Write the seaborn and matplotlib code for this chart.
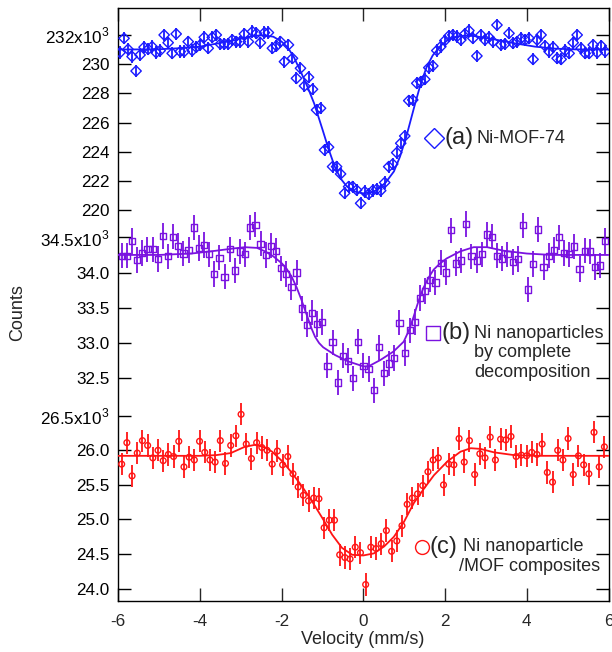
import numpy as np
import matplotlib
matplotlib.use("Agg")
import matplotlib.pyplot as plt
import seaborn as sns

# ── data (counts in units of 10^3) ───────────────────────────────────────────

# (a) Ni-MOF-74, blue diamonds
a_counts = [
    230.79, 231.77, 231.02, 230.52, 229.53, 230.63, 231.16, 231.02, 231.20, 230.79,
    230.93, 232.00, 231.47, 230.74, 232.07, 230.86, 230.86, 231.54, 230.93, 231.16,
    231.32, 231.84, 231.09, 231.84, 232.00, 231.38, 231.38, 231.38, 231.66, 231.54,
    231.54, 232.07, 231.54, 232.23, 232.11, 231.47, 232.16, 232.16, 231.09, 231.25,
    231.54, 230.17, 231.32, 230.40, 229.03, 229.72, 228.51, 229.10, 228.28, 226.86,
    226.98, 224.12, 224.31, 222.98, 222.98, 222.48, 221.16, 221.61, 221.61, 221.38,
    220.47, 221.27,
    221.10, 221.34, 221.43, 221.34, 221.89, 222.98, 223.16, 223.94, 224.58, 225.08,
    227.50, 227.55, 228.69, 228.80, 228.96, 229.76, 229.88, 230.93, 231.20, 231.61,
    231.93, 232.00, 231.89, 231.66, 232.07, 232.30, 231.77, 230.56, 232.00, 231.66,
    231.84, 231.54, 232.68, 231.32, 231.38, 232.11, 231.43, 231.54, 231.77, 231.66,
    231.77, 230.33, 231.66, 232.00, 231.25, 230.86, 231.16, 230.40, 230.33, 230.93,
    230.74, 231.47, 232.00, 231.09, 230.74, 230.74, 231.32, 230.79, 231.25, 230.86,
]
a_err = 0.42
a_fit_v = [-6, -5.0, -4.5, -4.0, -3.5, -3.1, -2.7, -2.45, -2.2, -2.0, -1.85, -1.7,
           -1.5, -1.35, -1.2, -1.0, -0.85, -0.7, -0.55, -0.4, -0.2, 0.0, 0.2, 0.35,
           0.55, 0.75, 0.9, 1.05, 1.25, 1.4, 1.55, 1.7, 1.9, 2.05, 2.2, 2.45, 2.7,
           3.2, 3.7, 4.2, 4.7, 5.2, 6]
a_fit = [231.0, 231.02, 231.09, 231.2, 231.45, 231.67, 231.93, 231.98, 231.88, 231.55,
         231.15, 230.5, 229.3, 228.35, 227.3, 225.55, 224.2, 223.0, 222.15, 221.62,
         221.27, 221.15, 221.22, 221.4, 221.9, 222.65, 223.67, 225.0, 227.1, 228.6,
         229.8, 230.6, 231.28, 231.61, 231.84, 231.95, 231.93, 231.7, 231.43, 231.2,
         231.06, 231.01, 231.0]

# (b) Ni nanoparticles by complete decomposition, purple squares
b_counts = [
    34.24, 34.24, 34.45, 34.18, 34.28, 34.33, 34.33, 34.19, 34.52, 34.23,
    34.51, 34.38, 34.27, 34.32, 34.64, 34.35, 34.39, 34.26, 33.98, 34.21,
    33.94, 34.33, 34.03, 34.30, 34.26, 34.64, 34.68, 34.41, 34.25, 34.38,
    34.31, 34.06, 33.98, 33.79, 34.00, 33.49, 33.26, 33.43, 33.27, 33.30,
    32.68, 33.01, 32.44, 32.82, 32.75, 32.50, 33.02, 32.68,
    32.63, 32.33, 32.94, 32.57, 32.71, 32.79, 33.29, 32.86, 33.18, 33.30,
    33.64, 33.74, 33.90, 33.86, 34.14, 34.00, 34.60, 34.13, 34.17, 34.69,
    34.23, 34.17, 34.26, 34.54, 34.51, 34.24, 34.20, 34.26, 34.15, 34.19,
    34.67, 33.76, 34.12, 34.61, 34.08, 34.24, 34.32, 34.50, 34.28, 34.26,
    34.37, 34.05, 34.31, 34.30, 34.08, 34.10, 34.45,
]
b_err = 0.18
b_fit_v = [-6, -5, -4.2, -3.6, -3.2, -2.9, -2.6, -2.4, -2.2, -1.99, -1.87, -1.75,
           -1.63, -1.51, -1.42, -1.34, -1.26, -1.18, -1.08, -0.98, -0.69, -0.37,
           0.0, 0.13, 0.42, 0.74, 0.99, 1.07, 1.15, 1.23, 1.31, 1.39, 1.47, 1.6,
           1.72, 1.88, 2.04, 2.37, 2.7, 3.03, 3.43, 4.0, 4.6, 6]
b_fit = [34.25, 34.25, 34.27, 34.31, 34.34, 34.36, 34.35, 34.30, 34.23, 34.13, 34.05,
         33.94, 33.79, 33.61, 33.46, 33.33, 33.2, 33.09, 33.0, 32.94, 32.83, 32.74,
         32.67, 32.67, 32.76, 32.88, 33.02, 33.12, 33.23, 33.37, 33.52, 33.66, 33.78,
         33.93, 34.04, 34.13, 34.2, 34.3, 34.36, 34.36, 34.31, 34.27, 34.25, 34.25]

# (c) Ni nanoparticle/MOF composites, red circles
c_counts = [
    25.80, 26.11, 25.63, 25.96, 26.14, 26.07, 25.89, 26.00, 25.85, 25.94,
    25.91, 26.13, 25.76, 25.90, 25.86, 26.13, 25.97, 25.86, 25.83, 26.14,
    25.81, 26.07, 26.21, 26.52, 26.09, 25.88, 26.11, 26.04, 26.00, 25.80,
    25.99, 25.79, 25.91, 25.66, 25.47, 25.35, 25.27, 25.31, 25.30, 24.88,
    24.99, 24.99, 24.49, 24.45, 24.43, 24.60, 24.52, 24.06,
    24.60, 24.58, 24.65, 24.84, 24.54, 24.69, 24.91, 25.22, 25.31, 25.37,
    25.49, 25.69, 25.86, 25.89, 25.50, 25.80, 25.79, 26.17, 25.83, 26.14,
    25.65, 25.95, 25.89, 26.19, 25.86, 26.16, 26.15, 26.20, 25.91, 25.93,
    25.92, 25.97, 25.94, 26.09, 25.68, 25.54, 26.00, 25.86, 26.17, 25.65,
    25.92, 25.79, 25.66, 26.26, 25.76, 26.05,
]
c_err = 0.16
c_fit_v = [-6, -4, -3.6, -3.24, -2.9, -2.64, -2.4, -2.23, -1.98, -1.74, -1.5, -1.25,
           -1.0, -0.76, -0.52, -0.27, 0.0, 0.26, 0.51, 0.75, 1.0, 1.24, 1.49, 1.73,
           2.06, 2.38, 2.63, 2.87, 3.2, 3.69, 4.2, 6]
c_fit = [25.92, 25.92, 25.93, 25.96, 26.05, 26.08, 26.04, 25.98, 25.84, 25.67, 25.48,
         25.26, 25.02, 24.78, 24.59, 24.49, 24.48, 24.51, 24.61, 24.75, 24.97, 25.24,
         25.45, 25.64, 25.84, 25.98, 26.03, 26.02, 25.97, 25.93, 25.92, 25.92]

# velocity channel grids (equally spaced channels)
a_vel = np.linspace(-5.95, 5.92, len(a_counts))
b_vel = np.linspace(-5.91, 5.92, len(b_counts))
c_vel = np.linspace(-5.91, 5.90, len(c_counts))

a_ticks = [220, 222, 224, 226, 228, 230, 232]
b_ticks = [32.5, 33.0, 33.5, 34.0, 34.5]
c_ticks = [24.0, 24.5, 25.0, 25.5, 26.0, 26.5]
x_ticks = [-6, -4, -2, 0, 2, 4, 6]

BLUE = "#1a1aff"
PURPLE = "#7a12e0"
RED = "#ff1414"

# ── figure ────────────────────────────────────────────────────────────────────

sns.set_style("ticks")
plt.rcParams["font.family"] = ["Liberation Sans", "DejaVu Sans"]
plt.rcParams["mathtext.fontset"] = "custom"
plt.rcParams["mathtext.rm"] = "Liberation Sans"

fig = plt.figure(figsize=(6.12, 6.52), dpi=100)
rect = [118 / 612, 51 / 652, 490.5 / 612, 593.5 / 652]

ax_a = fig.add_axes(rect)
ax_b = fig.add_axes(rect, sharex=ax_a)
ax_c = fig.add_axes(rect, sharex=ax_a)

panels = [
    (ax_a, a_vel, a_counts, a_err, a_fit_v, a_fit, BLUE, "D", 28, a_ticks, (193.23, 233.88), "{:.0f}"),
    (ax_b, b_vel, b_counts, b_err, b_fit_v, b_fit, PURPLE, "s", 20, b_ticks, (29.341, 37.76), "{:.1f}"),
    (ax_c, c_vel, c_counts, c_err, c_fit_v, c_fit, RED, "o", 17, c_ticks, (23.822, 32.399), "{:.1f}"),
]

for ax, vel, counts, err, fv, fy, col, mk, size, ticks, ylim, fmt in panels:
    ax.patch.set_visible(False)
    ax.errorbar(vel, counts, yerr=err, fmt="none", ecolor=col, elinewidth=1.3, capsize=0, zorder=2)
    sns.scatterplot(x=vel, y=counts, ax=ax, marker=mk, s=size, facecolor="none",
                    edgecolor=col, linewidth=1.0, zorder=3)
    sns.lineplot(x=fv, y=fy, ax=ax, color=col, lw=1.3, sort=False, zorder=4)
    ax.set_ylim(*ylim)
    ax.set_yticks(ticks)
    labels = [fmt.format(t) for t in ticks]
    labels[-1] = labels[-1] + "x10$^{3}$"
    ax.set_yticklabels(labels)
    ax.tick_params(axis="y", direction="in", length=9.5, width=1, left=True, right=True,
                   labelleft=True, labelright=False, labelsize=12.3, pad=6.3, colors="black")
    ax.set_xlabel("")
    ax.set_ylabel("")

for ax in (ax_b, ax_c):
    for sp in ax.spines.values():
        sp.set_visible(False)
    ax.tick_params(axis="x", bottom=False, top=False, labelbottom=False)

for sp in ax_a.spines.values():
    sp.set_visible(True)
    sp.set_linewidth(1.0)
    sp.set_color("black")

ax_a.set_xlim(-6, 6)
ax_a.set_xticks(x_ticks)
ax_a.set_xticklabels([str(t) for t in x_ticks])
ax_a.tick_params(axis="x", direction="in", length=9.5, width=1, bottom=True, top=True,
                 labelbottom=True, labelsize=12.3, pad=9)

fig.text(363 / 612, 1 - 640 / 652, "Velocity (mm/s)", ha="center", va="center", fontsize=13)
fig.text(18 / 612, 1 - 313 / 652, "Counts", ha="center", va="center", rotation=90, fontsize=13)

# ── panel labels ──────────────────────────────────────────────────────────────

ax_a.plot([1.73], [224.93], marker="D", ms=10, mfc="none", mec=BLUE, mew=1.0, zorder=5)
ax_a.text(2.0, 224.93, "(a)", fontsize=17, va="center", ha="left")
ax_a.text(2.78, 224.93, "Ni-MOF-74", fontsize=13, va="center", ha="left")

ax_b.plot([1.71], [33.14], marker="s", ms=10, mfc="none", mec=PURPLE, mew=1.0, zorder=5)
ax_b.text(1.92, 33.14, "(b)", fontsize=17, va="center", ha="left")
ax_b.text(2.71, 33.13, "Ni nanoparticles", fontsize=13, va="center", ha="left")
ax_b.text(2.71, 32.86, "by complete", fontsize=13, va="center", ha="left")
ax_b.text(2.71, 32.58, "decomposition", fontsize=13, va="center", ha="left")

ax_c.plot([1.43], [24.607], marker="o", ms=10, mfc="none", mec=RED, mew=1.0, zorder=5)
ax_c.text(1.63, 24.607, "(c)", fontsize=17, va="center", ha="left")
ax_c.text(2.44, 24.607, "Ni nanoparticle", fontsize=13, va="center", ha="left")
ax_c.text(2.34, 24.32, "/MOF composites", fontsize=13, va="center", ha="left")

fig.savefig("out.png", dpi=100)
